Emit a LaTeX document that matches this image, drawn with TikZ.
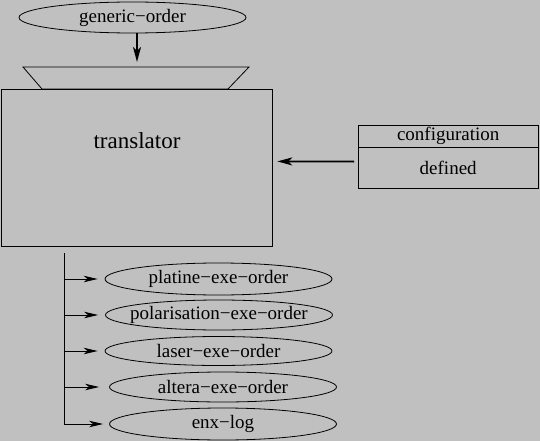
\documentclass[tikz,border=0pt]{standalone}
\usepackage{fontspec}
\setmainfont{Liberation Serif}
\usetikzlibrary{shapes.geometric,arrows.meta}
\definecolor{bggray}{HTML}{C0C0C0}
\begin{document}
\begin{tikzpicture}[x=1pt,y=-1pt,
  every node/.style={font=\fontsize{19}{22}\selectfont, inner sep=0pt},
  oval/.style={draw, ellipse, line width=0.8pt, inner xsep=-30pt, minimum width=227pt, minimum height=31pt},
  boxed/.style={draw, line width=0.8pt, rectangle},
  thin line/.style={line width=0.8pt},
  heavy/.style={line width=1.8pt},
  tip/.style={-{Stealth[length=14pt,width=6.5pt,inset=4pt]}},
  bigtip/.style={-{Stealth[length=15pt,width=8pt,inset=4pt]}}
]
\fill[bggray] (0,0) rectangle (540,441);
\useasboundingbox (0,0) rectangle (540,441);

% generic order
\node[oval] (gen) at (132.5,17.5) {generic−order};

% translator with trapezoid top
\draw[thin line] (23,67) -- (249,67) -- (228,89) -- (42,89) -- cycle;
\coordinate (traptop) at (137,67);
\node[boxed, minimum width=271pt, minimum height=157pt, anchor=north west] (tr) at (0.5,89) {};
\node[font=\fontsize{23}{26}\selectfont] (trlabel) at (137,141) {translator};

\draw[heavy, bigtip, shorten >=5pt] ([xshift=4.5pt]gen.south) -- (traptop);

% configuration
\node[minimum width=180pt, minimum height=22pt, anchor=north west] (cfghead) at (358,125) {configuration};
\node[minimum width=180pt, minimum height=41pt, anchor=north] (cfgbody) at (cfghead.south) {defined};
\draw[thin line] (cfghead.north west) rectangle (cfgbody.south east);
\draw[thin line] (cfghead.south west) -- (cfghead.south east);
\draw[heavy, bigtip] ([xshift=-4pt,yshift=6.5pt]cfgbody.west) -- ([xshift=5pt,yshift=6.5pt]tr.east);

% outputs
\node[oval, minimum height=32pt] (platine) at (218.5,279) {platine−exe−order};
\node[oval, minimum height=30pt] (polar) at (219,315) {polarisation−exe−order};
\node[oval, minimum height=29pt] (laser) at (218.5,351) {laser−exe−order};
\node[oval, minimum height=30pt] (altera) at (223,387) {altera−exe−order};
\node[oval, minimum height=32pt] (enx) at (223,424) {enx−log};

\coordinate (trunk) at (64,253);
\draw[thin line, tip] (trunk) |- ([xshift=-6pt]enx.west);
\draw[thin line, tip] (trunk |- platine.west) -- ([xshift=-7pt]platine.west);
\draw[thin line, tip] (trunk |- polar.west) -- ([xshift=-7pt]polar.west);
\draw[thin line, tip] (trunk |- laser.west) -- ([xshift=-7pt]laser.west);
\draw[thin line, tip] (trunk |- altera.west) -- ([xshift=-10pt]altera.west);
\end{tikzpicture}
\end{document}
